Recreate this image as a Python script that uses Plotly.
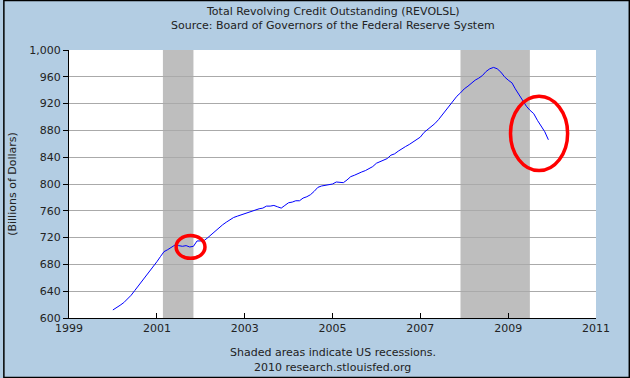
import plotly.graph_objects as go

months = [f"{y}-{m:02d}-01" for y in range(2000, 2010) for m in range(1, 13)]
revolsl = [
    612, 615, 619, 623, 628, 634, 641, 648, 655, 662, 669, 676,
    684, 692, 699, 702, 706, 709, 708, 707, 708, 706, 707, 715,
    715, 716, 720, 725, 729, 734, 739, 743, 747, 750, 752, 754,
    756, 758, 760, 761, 763, 764, 767, 767, 768, 766, 764, 768,
    772, 773, 775, 775, 779, 781, 784, 789, 795, 797, 798, 798,
    800, 803, 803, 802, 806, 811, 813, 816, 818, 820, 823, 826,
    831, 833, 835, 838, 843, 845, 849, 853, 856, 859, 863, 867,
    870, 877, 881, 885, 890, 896, 903, 911, 918, 925, 931, 936,
    942, 946, 951, 955, 958, 962, 968, 972, 974, 972, 967, 960,
    955, 951, 942, 933, 924, 916, 910, 905, 895, 887, 878, 866,
]
recessions = [("2001-02-20", "2001-11-01"), ("2007-12-01", "2009-06-30")]
circles = [("2001-06-10", "2002-02-05", 689, 723), ("2009-01-20", "2010-05-10", 820, 931)]
x_ticks = ["1999-01-01", "2001-01-01", "2003-01-01", "2005-01-01", "2007-01-01", "2009-01-01", "2011-01-01"]
x_labels = ["1999", "2001", "2003", "2005", "2007", "2009", "2011"]
y_ticks = [600, 640, 680, 720, 760, 800, 840, 880, 920, 960, 1000]

FONT = "DejaVu Sans"
TXT = "#222222"

fig = go.Figure()
fig.add_trace(go.Scatter(x=months, y=revolsl, mode="lines",
                         line=dict(color="#0000FF", width=1), hoverinfo="skip"))

shapes = []
for a, b in recessions:
    shapes.append(dict(type="rect", xref="x", yref="paper", x0=a, x1=b, y0=0, y1=1,
                       fillcolor="#BEBEBE", line=dict(width=0), layer="between"))
for a, b, c, d in circles:
    shapes.append(dict(type="circle", xref="x", yref="y", x0=a, x1=b, y0=c, y1=d,
                       line=dict(color="#FF0000", width=3.5), layer="above"))
# outer border of the image
W, H = 630, 378
L, R, T, B = 66, 34, 50, 60
pw, ph = W - L - R, H - T - B
shapes.append(dict(type="rect", xref="paper", yref="paper",
                   x0=(0.5 - L) / pw, x1=(W - 0.5 - L) / pw,
                   y0=-(B - 0.5) / ph, y1=(H - 0.5 - B) / ph,
                   line=dict(color="#000000", width=1.5), layer="above"))

annotations = [
    dict(text="Total Revolving Credit Outstanding (REVOLSL)", xref="paper", yref="paper",
         x=0.5, y=(H - 11 - B) / ph, xanchor="center", yanchor="middle", showarrow=False,
         font=dict(family=FONT, size=11, color=TXT)),
    dict(text="Source: Board of Governors of the Federal Reserve System", xref="paper", yref="paper",
         x=0.5, y=(H - 26 - B) / ph, xanchor="center", yanchor="middle", showarrow=False,
         font=dict(family=FONT, size=11, color=TXT)),
    dict(text="Shaded areas indicate US recessions.", xref="paper", yref="paper",
         x=0.5, y=-(352 - (H - B)) / ph, xanchor="center", yanchor="middle", showarrow=False,
         font=dict(family=FONT, size=11, color=TXT)),
    dict(text="2010 research.stlouisfed.org", xref="paper", yref="paper",
         x=0.5, y=-(367 - (H - B)) / ph, xanchor="center", yanchor="middle", showarrow=False,
         font=dict(family=FONT, size=11, color=TXT)),
]

fig.update_layout(
    width=W, height=H,
    margin=dict(l=L, r=R, t=T, b=B),
    paper_bgcolor="#B3CDE3",
    plot_bgcolor="#FFFFFF",
    showlegend=False,
    shapes=shapes,
    annotations=annotations,
    font=dict(family=FONT, size=11, color=TXT),
)
fig.update_xaxes(
    type="date", range=["1999-01-01", "2011-01-01"],
    tickmode="array", tickvals=x_ticks, ticktext=x_labels,
    ticks="inside", ticklen=5, tickcolor="#000000", tickwidth=1,
    showline=True, linecolor="#000000", linewidth=1,
    showgrid=False, zeroline=False,
    tickfont=dict(family=FONT, size=11, color=TXT),
)
fig.update_yaxes(
    range=[600, 1000], tickmode="array", tickvals=y_ticks,
    ticktext=[f"{v:,}" for v in y_ticks],
    ticks="outside", ticklen=5, tickcolor="#000000", tickwidth=1,
    showline=True, linecolor="#000000", linewidth=1,
    showgrid=True, gridcolor="#AAAAAA", gridwidth=1, zeroline=False,
    title=dict(text="(Billions of Dollars)", standoff=10,
               font=dict(family=FONT, size=11, color=TXT)),
    tickfont=dict(family=FONT, size=11, color=TXT),
)

fig.write_html("out.html", config={"displayModeBar": False, "staticPlot": True},
               post_script="document.body.style.margin='0px';document.body.style.overflow='hidden';")
